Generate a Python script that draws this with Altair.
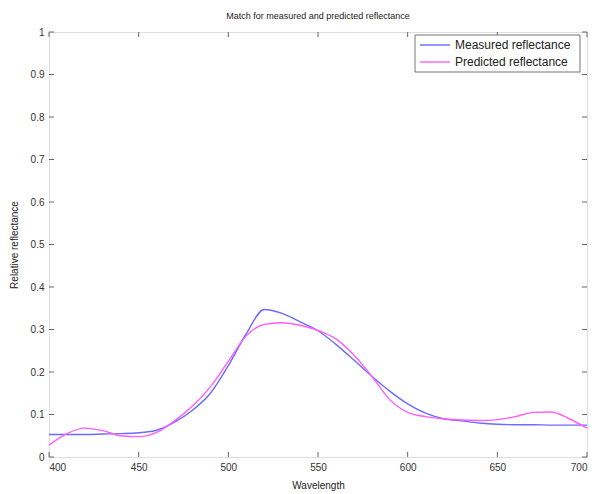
import altair as alt
import pandas as pd

wavelength = list(range(400, 701, 10))
measured = [0.053, 0.053, 0.053, 0.054, 0.055, 0.057, 0.063, 0.082, 0.11, 0.15,
            0.215, 0.29, 0.347, 0.338, 0.318, 0.297, 0.265, 0.228, 0.19, 0.155,
            0.125, 0.103, 0.09, 0.085, 0.08, 0.077, 0.076, 0.076, 0.075, 0.075, 0.075]
predicted = [0.028, 0.055, 0.068, 0.062, 0.05, 0.048, 0.058, 0.085, 0.12, 0.165,
             0.225, 0.285, 0.312, 0.316, 0.31, 0.298, 0.278, 0.24, 0.19, 0.135,
             0.105, 0.095, 0.09, 0.087, 0.086, 0.088, 0.095, 0.105, 0.106, 0.09, 0.068]
series_names = ["Measured reflectance", "Predicted reflectance"]
series_colors = ["#6b6bff", "#ff5cff"]
x_ticks = [400, 450, 500, 550, 600, 650, 700]
y_ticks = [0, 0.1, 0.2, 0.3, 0.4, 0.5, 0.6, 0.7, 0.8, 0.9, 1]

W, H = 538, 425
FONT = "Liberation Sans"

df = pd.DataFrame({
    "Wavelength": wavelength * 2,
    "Reflectance": measured + predicted,
    "Series": [series_names[0]] * len(wavelength) + [series_names[1]] * len(wavelength),
})

xscale = alt.Scale(domain=[400, 700], nice=False, zero=False)
yscale = alt.Scale(domain=[0, 1], nice=False)
cscale = alt.Scale(domain=series_names, range=series_colors)

lines = alt.Chart(df).mark_line(strokeWidth=1.4, interpolate="monotone").encode(
    x=alt.X("Wavelength:Q", scale=xscale,
            axis=alt.Axis(values=x_ticks, title="Wavelength", ticks=False, domain=False,
                          grid=False, labelPadding=5, titlePadding=8, labelFontSize=10,
                          titleFontSize=10, titleFontWeight="normal", labelColor="#333",
                          titleColor="#222", labelFont=FONT, titleFont=FONT)),
    y=alt.Y("Reflectance:Q", scale=yscale,
            axis=alt.Axis(values=y_ticks, title="Relative reflectance", ticks=False,
                          domain=False, grid=False, labelPadding=5, titlePadding=11,
                          labelFontSize=10, titleFontSize=10, titleFontWeight="normal",
                          labelColor="#333", titleColor="#222", labelFont=FONT,
                          titleFont=FONT, labelExpr="format(datum.value, '~g')")),
    color=alt.Color("Series:N", scale=cscale, legend=None),
)

xt = pd.DataFrame({"t": x_ticks})
yt = pd.DataFrame({"t": y_ticks})
tick_color = "#666"

xb = alt.Chart(xt).mark_rule(color=tick_color).encode(
    x=alt.X("t:Q", scale=xscale), y=alt.value(H), y2=alt.value(H - 5))
xtop = alt.Chart(xt).mark_rule(color=tick_color).encode(
    x=alt.X("t:Q", scale=xscale), y=alt.value(0), y2=alt.value(5))
yl = alt.Chart(yt).mark_rule(color=tick_color).encode(
    y=alt.Y("t:Q", scale=yscale), x=alt.value(0), x2=alt.value(5))
yr = alt.Chart(yt).mark_rule(color=tick_color).encode(
    y=alt.Y("t:Q", scale=yscale), x=alt.value(W), x2=alt.value(W - 5))

# custom legend box (MATLAB style)
LX0, LX1, LY0, LY1 = 366, 531, 3, 40
ROW0, ROWSTEP = 13, 17
leg = pd.DataFrame({"Series": series_names,
                    "ypix": [ROW0 + i * ROWSTEP for i in range(len(series_names))]})

leg_box = alt.Chart(pd.DataFrame({"a": [0]})).mark_rect(
    fill="white", stroke="#777", strokeWidth=1).encode(
    x=alt.value(LX0), x2=alt.value(LX1), y=alt.value(LY0), y2=alt.value(LY1))
leg_lines = alt.Chart(leg).mark_rule(strokeWidth=1.4).encode(
    x=alt.value(LX0 + 5), x2=alt.value(LX0 + 35),
    y=alt.Y("ypix:Q", scale=None),
    color=alt.Color("Series:N", scale=cscale, legend=None))
leg_text = alt.Chart(leg).mark_text(
    align="left", baseline="middle", fontSize=12, font=FONT, color="#222").encode(
    x=alt.value(LX0 + 40), y=alt.Y("ypix:Q", scale=None), text="Series:N")

chart = alt.layer(xb, xtop, yl, yr, lines, leg_box, leg_lines, leg_text).properties(
    width=W, height=H,
    title=alt.TitleParams("Match for measured and predicted reflectance", fontSize=9,
                          fontWeight="normal", font=FONT, color="#222", offset=6),
    padding={"left": 49, "top": 32, "right": 9, "bottom": 37},
    autosize=alt.AutoSizeParams(type="none"),
).configure_view(stroke="#666", strokeWidth=1.2).configure(background="white")

chart.save("out.html", embed_options={"renderer": "svg", "actions": False})
